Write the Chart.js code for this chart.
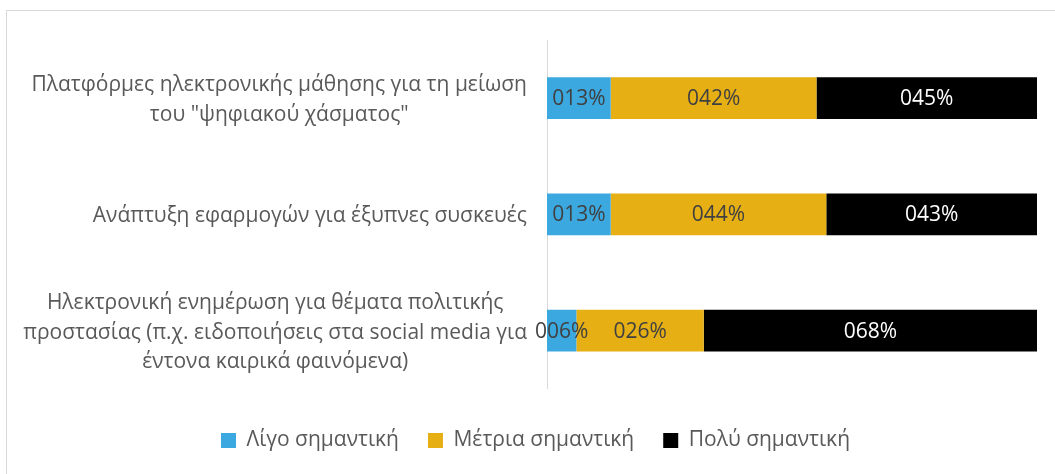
<!DOCTYPE html>
<html>
<head>
<meta charset="utf-8">
<script src="https://cdn.jsdelivr.net/npm/chart.js@4/dist/chart.umd.min.js"></script>
<style>
	html, body { margin: 0; padding: 0; background: #fff; overflow: hidden; }
	#wrap { position: relative; width: 1055px; height: 474px; }
	#frame { position: absolute; left: 6px; top: 10px; width: 1200px; height: 600px; border: 1px solid #d9d9d9; box-sizing: border-box; }
	#chart { position: absolute; left: 0; top: 0; }
</style>
</head>
<body>
<div id="wrap">
	<div id="frame"></div>
	<canvas id="chart" width="1055" height="474"></canvas>
</div>
<script>
const categories = [
	['Πλατφόρμες ηλεκτρονικής μάθησης για τη μείωση', 'του "ψηφιακού χάσματος"'],
	['Ανάπτυξη εφαρμογών για έξυπνες συσκευές'],
	['Ηλεκτρονική ενημέρωση για θέματα πολιτικής', 'προστασίας (π.χ. ειδοποιήσεις στα social media για', 'έντονα καιρικά φαινόμενα)']
];
const seriesNames = ['Λίγο σημαντική', 'Μέτρια σημαντική', 'Πολύ σημαντική'];
const littleValues = [13, 13, 6];
const mediumValues = [42, 44, 26];
const veryValues = [45, 43, 68];

const colours = ['#3ba8e0', '#e6af14', '#000000'];
const labelColours = ['#404040', '#404040', '#ffffff'];
const font = '"Open Sans", "DejaVu Sans", sans-serif';
const fontSize = 21;

// category labels: block right aligned to the axis, lines centred inside the block
const categoryLabels = {
	id: 'categoryLabels',
	afterDraw: function(chart) {
		let ctx = chart.ctx,
			scale = chart.scales.y,
			lineHeight = 29.5;

		ctx.save();
		ctx.font = fontSize + 'px ' + font;
		ctx.fillStyle = '#595959';
		ctx.textAlign = 'center';
		ctx.textBaseline = 'middle';

		categories.forEach(function(lines, i) {
			let y = scale.getPixelForTick(i) + 2,
				width = Math.max.apply(null, lines.map(function(l) { return ctx.measureText(l).width; })),
				centre = scale.right - 20 - width / 2,
				top = y - (lines.length - 1) * lineHeight / 2;

			lines.forEach(function(line, j) {
				ctx.fillText(line, centre, top + j * lineHeight);
			});
		});
		ctx.restore();
	}
};

// value labels in the middle of each segment
const valueLabels = {
	id: 'valueLabels',
	afterDatasetsDraw: function(chart) {
		let ctx = chart.ctx;

		ctx.save();
		ctx.font = fontSize + 'px ' + font;
		ctx.textAlign = 'center';
		ctx.textBaseline = 'middle';

		chart.data.datasets.forEach(function(ds, d) {
			chart.getDatasetMeta(d).data.forEach(function(bar, i) {
				let p = bar.getCenterPoint();
				ctx.fillStyle = labelColours[d];
				ctx.fillText(String(ds.data[i]).padStart(3, '0') + '%', p.x, p.y + 1);
			});
		});
		ctx.restore();
	}
};

new Chart(document.getElementById('chart'), {
	type: 'bar',
	data: {
		labels: categories,
		datasets: [
			{ label: seriesNames[0], data: littleValues, backgroundColor: colours[0] },
			{ label: seriesNames[1], data: mediumValues, backgroundColor: colours[1] },
			{ label: seriesNames[2], data: veryValues, backgroundColor: colours[2] }
		]
	},
	options: {
		indexAxis: 'y',
		responsive: false,
		animation: false,
		events: [],
		layout: { padding: { top: 40, right: 18, left: 34, bottom: 13 } },
		datasets: { bar: { categoryPercentage: 1, barPercentage: 0.36 } },
		scales: {
			x: { stacked: true, min: 0, max: 100, display: false },
			y: {
				stacked: true,
				grid: { display: false },
				border: { display: true, color: '#d9d9d9', width: 1 },
				ticks: { display: false },
				afterFit: function(scale) { scale.width = 513; }
			}
		},
		plugins: {
			legend: {
				position: 'bottom',
				title: { display: true, text: ' ', font: { size: 1 }, padding: { top: 0, bottom: 11 } },
				labels: {
					boxWidth: 15,
					boxHeight: 15,
					padding: 29,
					color: '#595959',
					font: { family: font, size: fontSize }
				}
			},
			tooltip: { enabled: false }
		}
	},
	plugins: [categoryLabels, valueLabels]
});
</script>
</body>
</html>
